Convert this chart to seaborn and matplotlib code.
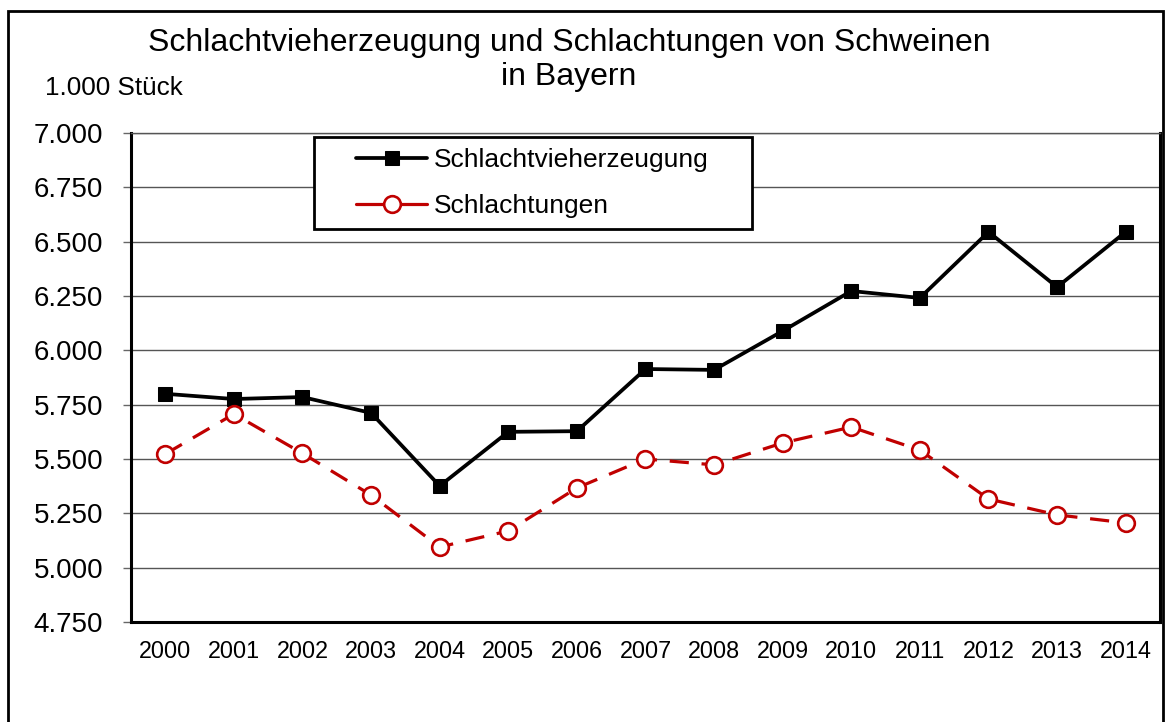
import pandas as pd
import seaborn as sns
import matplotlib.pyplot as plt
from matplotlib.patches import Rectangle
from matplotlib.ticker import FixedLocator, FuncFormatter

# Data (1.000 Stück)
years = [2000, 2001, 2002, 2003, 2004, 2005, 2006, 2007,
         2008, 2009, 2010, 2011, 2012, 2013, 2014]
erzeugung = [5800, 5776, 5785, 5712, 5376, 5625, 5628, 5914,
             5910, 6089, 6273, 6241, 6545, 6291, 6545]
schlachtungen = [5523, 5707, 5526, 5334, 5095, 5169, 5367, 5500,
                 5473, 5574, 5647, 5541, 5316, 5243, 5206]
y_ticks = [4750, 5000, 5250, 5500, 5750, 6000, 6250, 6500, 6750, 7000]

df = pd.DataFrame({"Jahr": years,
                   "Schlachtvieherzeugung": erzeugung,
                   "Schlachtungen": schlachtungen})

sns.set_style("white")
plt.rcParams['font.family'] = ['Liberation Sans', 'DejaVu Sans']
plt.rcParams['text.color'] = 'black'
plt.rcParams['xtick.color'] = 'black'
plt.rcParams['ytick.color'] = 'black'

W, H = 1166, 722
fig = plt.figure(figsize=(W / 100, H / 100), dpi=100)
ax = fig.add_axes([131 / W, 1 - 622 / H, 1029 / W, 489 / H])

sns.lineplot(data=df, x="Jahr", y="Schlachtvieherzeugung", ax=ax,
             color="black", linewidth=2.7, marker="s", markersize=10.5,
             markeredgecolor="black", markerfacecolor="black",
             label="Schlachtvieherzeugung", zorder=4)
sns.lineplot(data=df, x="Jahr", y="Schlachtungen", ax=ax,
             color="#C00000", linewidth=2.3, linestyle=(0, (6, 4)),
             marker="o", markersize=12, markeredgewidth=1.9,
             markeredgecolor="#C00000", markerfacecolor="white",
             label="Schlachtungen", zorder=4)

# axes
ax.set_xlim(years[0] - 0.5, years[-1] + 0.5)
ax.set_ylim(y_ticks[0], y_ticks[-1])
ax.set_yticks(y_ticks)
ax.yaxis.set_major_formatter(FuncFormatter(lambda v, p: f"{int(v):,}".replace(",", ".")))
ax.set_xticks(years)
ax.xaxis.set_minor_locator(FixedLocator([y - 0.5 for y in years] + [years[-1] + 0.5]))
ax.tick_params(axis="x", which="major", length=0, labelsize=16.8, pad=13)
ax.tick_params(axis="x", which="minor", length=6, width=1.2, color="#666666", direction="out")
ax.tick_params(axis="y", which="major", length=6, width=1, direction="out",
               color="#666666", labelsize=20, pad=14, left=True)
ax.set_xlabel("")
ax.set_ylabel("")

ax.grid(True, axis="y", color="#555555", linewidth=1)
ax.set_axisbelow(True)
for side in ["left", "bottom", "right"]:
    ax.spines[side].set_color("black")
    ax.spines[side].set_linewidth(2.2)
ax.spines["top"].set_color("#555555")
ax.spines["top"].set_linewidth(1)

# legend box drawn separately to match the padding of the reference
ax.add_patch(Rectangle((314 / W, 1 - 229 / H), 438 / W, 92 / H,
                       transform=fig.transFigure, facecolor="white",
                       edgecolor="black", linewidth=2, zorder=5, clip_on=False))
leg = ax.legend(loc="upper left", bbox_to_anchor=(356 / W, 1 - 148 / H),
                bbox_transform=fig.transFigure, fontsize=19, frameon=False,
                handlelength=2.7, borderpad=0, labelspacing=0.85,
                handletextpad=0.25, borderaxespad=0)
leg.set_zorder(10)
for line in leg.get_lines():
    line.set_linestyle("-")

# titles
fig.text(569 / W, 1 - 43 / H, "Schlachtvieherzeugung und Schlachtungen von Schweinen",
         ha="center", va="center", fontsize=23)
fig.text(569 / W, 1 - 77 / H, "in Bayern", ha="center", va="center", fontsize=23)
fig.text(45 / W, 1 - 88 / H, "1.000 Stück", ha="left", va="center", fontsize=18.8)

# outer chart border
fig.patches.append(Rectangle((8 / W, -0.05), 1155 / W, 1.05 - 11 / H,
                             transform=fig.transFigure, fill=False,
                             edgecolor="black", linewidth=2))

fig.savefig("out.png", dpi=100)
